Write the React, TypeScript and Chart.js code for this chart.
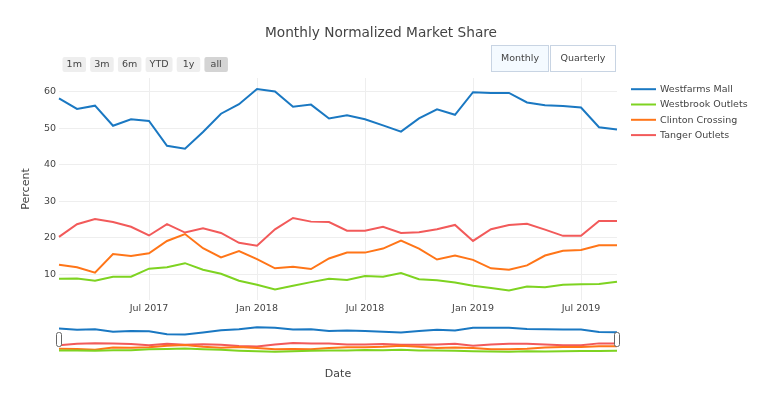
import React, { useEffect, useRef } from "react";
import { Chart, registerables } from "chart.js";

Chart.register(...registerables);

const months = [
  "Feb 2017", "Mar 2017", "Apr 2017", "May 2017", "Jun 2017", "Jul 2017", "Aug 2017", "Sep 2017",
  "Oct 2017", "Nov 2017", "Dec 2017", "Jan 2018", "Feb 2018", "Mar 2018", "Apr 2018", "May 2018",
  "Jun 2018", "Jul 2018", "Aug 2018", "Sep 2018", "Oct 2018", "Nov 2018", "Dec 2018", "Jan 2019",
  "Feb 2019", "Mar 2019", "Apr 2019", "May 2019", "Jun 2019", "Jul 2019", "Aug 2019", "Sep 2019",
];
const xTickLabels = ["Jul 2017", "Jan 2018", "Jul 2018", "Jan 2019", "Jul 2019"];
const yTickValues = [10, 20, 30, 40, 50, 60];

const westfarmsMall = [58.2, 55.3, 56.2, 50.7, 52.5, 52.0, 45.2, 44.4, 49.0, 54.0, 56.6, 60.8, 60.1, 55.9, 56.5, 52.7, 53.6, 52.5, 50.8, 49.1, 52.7, 55.2, 53.7, 59.9, 59.7, 59.7, 57.1, 56.3, 56.1, 55.7, 50.3, 49.7];
const westbrookOutlets = [8.7, 8.8, 8.2, 9.3, 9.3, 11.5, 11.9, 13.0, 11.2, 10.1, 8.2, 7.1, 5.8, 6.8, 7.8, 8.7, 8.4, 9.5, 9.3, 10.3, 8.6, 8.3, 7.7, 6.8, 6.2, 5.5, 6.6, 6.4, 7.1, 7.2, 7.3, 7.9];
const clintonCrossing = [12.6, 11.9, 10.4, 15.5, 15.0, 15.7, 19.1, 21.0, 17.1, 14.6, 16.3, 14.1, 11.6, 12.0, 11.4, 14.3, 15.9, 15.9, 17.0, 19.2, 17.0, 14.0, 15.1, 13.9, 11.6, 11.2, 12.4, 15.1, 16.4, 16.6, 17.9, 17.9];
const tangerOutlets = [20.2, 23.7, 25.1, 24.3, 23.0, 20.6, 23.7, 21.4, 22.6, 21.3, 18.6, 17.8, 22.3, 25.4, 24.4, 24.3, 21.9, 21.9, 23.0, 21.3, 21.5, 22.3, 23.5, 19.1, 22.3, 23.5, 23.8, 22.2, 20.5, 20.5, 24.6, 24.6];

const seriesNames = ["Westfarms Mall", "Westbrook Outlets", "Clinton Crossing", "Tanger Outlets"];
const seriesValues = [westfarmsMall, westbrookOutlets, clintonCrossing, tangerOutlets];
const seriesColors = ["#1a78c2", "#7ed321", "#ff7518", "#f25a5a"];

const rangeButtons = ["1m", "3m", "6m", "YTD", "1y", "all"];
const frequencyButtons = ["Monthly", "Quarterly"];

const titleText = "Monthly Normalized Market Share";
const yTitle = "Percent";
const xTitle = "Date";

const FONT = "'DejaVu Sans', Verdana, sans-serif";
const TEXT = "#444444";
const Y_MIN = 2.9;
const Y_MAX = 63.8;

function rr(ctx: CanvasRenderingContext2D, x: number, y: number, w: number, h: number, r: number) {
  ctx.beginPath();
  ctx.moveTo(x + r, y);
  ctx.lineTo(x + w - r, y);
  ctx.quadraticCurveTo(x + w, y, x + w, y + r);
  ctx.lineTo(x + w, y + h - r);
  ctx.quadraticCurveTo(x + w, y + h, x + w - r, y + h);
  ctx.lineTo(x + r, y + h);
  ctx.quadraticCurveTo(x, y + h, x, y + h - r);
  ctx.lineTo(x, y + r);
  ctx.quadraticCurveTo(x, y, x + r, y);
  ctx.closePath();
}

const overlayPlugin = {
  id: "overlay",
  afterDraw(chart: any) {
    const ctx: CanvasRenderingContext2D = chart.ctx;
    const area = chart.chartArea;
    ctx.save();

    // title
    ctx.fillStyle = TEXT;
    ctx.font = `13.7px ${FONT}`;
    ctx.textAlign = "center";
    ctx.textBaseline = "middle";
    ctx.fillText(titleText, 381, 33);

    // range selector buttons
    ctx.font = `9.5px ${FONT}`;
    let bx = 62.5;
    rangeButtons.forEach((label, i) => {
      const tw = ctx.measureText(label).width;
      const w = Math.max(tw + 8, 23.5);
      ctx.fillStyle = i === rangeButtons.length - 1 ? "#d4d4d4" : "#eeeeee";
      rr(ctx, bx, 57, w, 15, 2);
      ctx.fill();
      ctx.fillStyle = TEXT;
      ctx.textAlign = "center";
      ctx.fillText(label, bx + w / 2, 64.8);
      bx += w + 4.2;
    });

    // frequency buttons
    const fb = [
      { x: 491.5, w: 57, fill: "#f4faff" },
      { x: 550.5, w: 65, fill: "#ffffff" },
    ];
    frequencyButtons.forEach((label, i) => {
      const b = fb[i];
      ctx.fillStyle = b.fill;
      ctx.strokeStyle = "#c8d4e3";
      ctx.lineWidth = 1;
      ctx.fillRect(b.x, 45.5, b.w, 26);
      ctx.strokeRect(b.x, 45.5, b.w, 26);
      ctx.fillStyle = TEXT;
      ctx.textAlign = "center";
      ctx.fillText(label, b.x + b.w / 2, 58.3);
    });

    // legend
    seriesNames.forEach((name, i) => {
      const y = 89.2 + i * 15.3;
      ctx.strokeStyle = seriesColors[i];
      ctx.lineWidth = 2;
      ctx.beginPath();
      ctx.moveTo(631, y);
      ctx.lineTo(656, y);
      ctx.stroke();
      ctx.fillStyle = TEXT;
      ctx.textAlign = "left";
      ctx.font = `9.5px ${FONT}`;
      ctx.fillText(name, 660, y + 0.5);
    });

    // axis titles
    ctx.font = `11px ${FONT}`;
    ctx.fillStyle = TEXT;
    ctx.textAlign = "center";
    ctx.fillText(xTitle, (area.left + area.right) / 2, 374);
    ctx.translate(26, (area.top + area.bottom) / 2);
    ctx.rotate(-Math.PI / 2);
    ctx.fillText(yTitle, 0, 0);
    ctx.restore();
  },
};

const handlesPlugin = {
  id: "handles",
  afterDraw(chart: any) {
    const ctx: CanvasRenderingContext2D = chart.ctx;
    const area = chart.chartArea;
    ctx.save();
    const mid = (area.top + area.bottom) / 2;
    [area.left, area.right].forEach((x) => {
      rr(ctx, x - 2.5, mid - 7, 5, 14, 2);
      ctx.fillStyle = "#ffffff";
      ctx.fill();
      ctx.strokeStyle = "#666666";
      ctx.lineWidth = 1;
      ctx.stroke();
    });
    ctx.restore();
  },
};

function makeDatasets(width: number) {
  return seriesNames.map((name, i) => ({
    label: name,
    data: seriesValues[i],
    borderColor: seriesColors[i],
    backgroundColor: seriesColors[i],
    borderWidth: width,
    pointRadius: 0,
    tension: 0,
    fill: false,
  }));
}

export default function App() {
  const mainRef = useRef<HTMLCanvasElement>(null);
  const sliderRef = useRef<HTMLCanvasElement>(null);

  useEffect(() => {
    const main = new Chart(mainRef.current as HTMLCanvasElement, {
      type: "line",
      data: { labels: months, datasets: makeDatasets(2) as any },
      options: {
        responsive: false,
        animation: false,
        layout: { padding: { left: 0, right: 143, top: 78, bottom: 0 } },
        plugins: { legend: { display: false }, title: { display: false }, tooltip: { enabled: false } },
        scales: {
          x: {
            type: "category",
            offset: false,
            border: { display: false },
            grid: {
              drawTicks: false,
              color: (c: any) => (xTickLabels.includes(months[c.index]) ? "#eeeeee" : "rgba(0,0,0,0)"),
            },
            ticks: {
              autoSkip: false,
              maxRotation: 0,
              padding: 3,
              color: TEXT,
              font: { family: FONT, size: 9.5 },
              callback: (_v: any, i: number) => (xTickLabels.includes(months[i]) ? months[i] : ""),
            },
            afterFit: (s: any) => { s.height = 98; },
          },
          y: {
            min: Y_MIN,
            max: Y_MAX,
            border: { display: false },
            grid: { drawTicks: false, color: "#eeeeee" },
            ticks: { padding: 3, color: TEXT, font: { family: FONT, size: 9.5 } },
            afterBuildTicks: (s: any) => { s.ticks = yTickValues.map((v) => ({ value: v })); },
            afterFit: (s: any) => { s.width = 59; },
          },
        },
      } as any,
      plugins: [overlayPlugin],
    });

    const slider = new Chart(sliderRef.current as HTMLCanvasElement, {
      type: "line",
      data: { labels: months, datasets: makeDatasets(2) as any },
      options: {
        responsive: false,
        animation: false,
        layout: { padding: { left: 6, right: 6, top: 6, bottom: 7 } },
        plugins: { legend: { display: false }, title: { display: false }, tooltip: { enabled: false } },
        scales: {
          x: { type: "category", offset: false, display: false },
          y: { min: Y_MIN, max: Y_MAX, display: false },
        },
      } as any,
      plugins: [handlesPlugin],
    });

    return () => {
      main.destroy();
      slider.destroy();
    };
  }, []);

  return (
    <div style={{ position: "absolute", left: 0, top: 0, width: 760, height: 398, background: "#ffffff" }}>
      <canvas ref={mainRef} width={760} height={398} style={{ position: "absolute", left: 0, top: 0, width: 760, height: 398 }} />
      <canvas ref={sliderRef} width={570} height={40} style={{ position: "absolute", left: 53, top: 320, width: 570, height: 40 }} />
    </div>
  );
}
